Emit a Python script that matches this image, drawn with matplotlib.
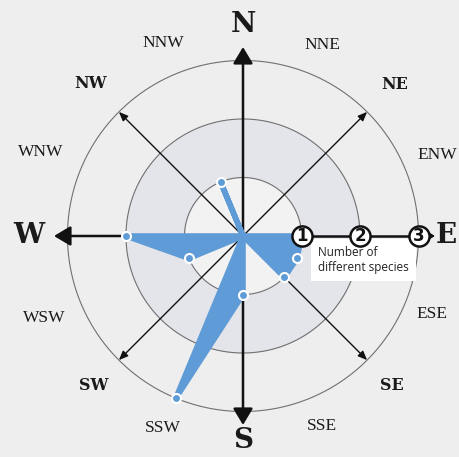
import numpy as np
import matplotlib
matplotlib.use("Agg")
import matplotlib.pyplot as plt

# ---- data ----
directions = ['N', 'NNE', 'NE', 'ENW', 'E', 'ESE', 'SE', 'SSE',
              'S', 'SSW', 'SW', 'WSW', 'W', 'WNW', 'NW', 'NNW']
species_counts = [0, 0, 0, 0, 1, 1, 1, 0, 1, 3, 0, 1, 2, 0, 0, 1]
scale_ticks = [1, 2, 3]
legend_text = 'Number of\ndifferent species'

# layout: radial distance of each direction label
label_radius = [3.62, 3.54, 3.66, 3.6, 3.48, 3.49, 3.61, 3.52,
                3.5, 3.56, 3.61, 3.67, 3.66, 3.74, 3.68, 3.57]

BLUE = '#5f9bd6'
BG = '#eeeeee'

fig = plt.figure(figsize=(4.6, 4.57), dpi=100, facecolor=BG)
ax = fig.add_axes([0.0513, 0.0035, 0.9539, 0.9602], projection='polar')
ax.set_theta_zero_location('N')
ax.set_theta_direction(-1)
ax.set_ylim(0, 3.75)
ax.axis('off')

theta = np.deg2rad(np.arange(len(directions)) * 22.5)
vals = np.array(species_counts, dtype=float)
circ = np.linspace(0, 2 * np.pi, 721)

# shaded ring between 1 and 2
ax.fill_between(circ, 0, 1, color='#f2f2f2', lw=0, zorder=1)
ax.fill_between(circ, 1, 2, color='#e3e5ea', lw=0, zorder=1)
for r in scale_ticks:
    ax.plot(circ, np.full_like(circ, r), color='#707070', lw=0.8, zorder=2)

# main axes (N, S, W) with big arrow heads
for ang in [0, np.pi, 1.5 * np.pi]:
    ax.annotate('', xy=(ang, 3.23), xytext=(ang, 0),
                arrowprops=dict(arrowstyle='-|>,head_length=0.5,head_width=0.3',
                                mutation_scale=20, lw=1.8, color='#111111',
                                shrinkA=0, shrinkB=0), zorder=3)
# E axis (scale)
ax.plot([np.pi / 2, np.pi / 2], [0, 3.1], color='#111111', lw=1.8, zorder=3)
ax.annotate('', xy=(np.pi / 2, 3.28), xytext=(np.pi / 2, 3.0),
            arrowprops=dict(arrowstyle='-|>,head_length=0.55,head_width=0.35',
                            mutation_scale=12, lw=1.2, color='#111111',
                            shrinkA=0, shrinkB=0), zorder=3)

# diagonal axes
for ang in np.deg2rad([45, 135, 225, 315]):
    ax.annotate('', xy=(ang, 3.0), xytext=(ang, 0),
                arrowprops=dict(arrowstyle='-|>,head_length=0.6,head_width=0.25',
                                mutation_scale=9, lw=1.0, color='#111111',
                                shrinkA=0, shrinkB=0), zorder=3)

# legend box
ax.annotate(legend_text, xy=(np.pi / 2, 1.0), xytext=(12, -7),
            textcoords='offset points', ha='left', va='top',
            fontsize=8.5, family=['Open Sans', 'DejaVu Sans'], linespacing=1.22,
            color='#222222',
            bbox=dict(boxstyle='square,pad=0.6', fc='white', ec='none'),
            zorder=3.5)

# data polygon
tc = np.append(theta, theta[0])
vc = np.append(vals, vals[0])
ax.fill(tc, vc, facecolor=BLUE, edgecolor=BLUE, lw=4.0, joinstyle='round', zorder=4)
m = vals > 0
ax.plot(theta[m], vals[m], 'o', ms=6.5, mfc=BLUE, mec='white', mew=1.5,
        zorder=5, clip_on=False)

# circled scale numbers
ax.plot([np.pi / 2] * len(scale_ticks), scale_ticks, 'o', ms=14.5, mfc='white',
        mec='#111111', mew=1.8, zorder=6, clip_on=False)
for r in scale_ticks:
    ax.text(np.pi / 2, r, str(r), ha='center', va='center', fontsize=12,
            fontweight='bold', family='DejaVu Sans', color='#111111', zorder=7)

# direction labels
for i, d in enumerate(directions):
    if i % 4 == 0:
        kw = dict(fontsize=20, fontweight='bold', family='DejaVu Serif')
    elif i % 4 == 2:
        kw = dict(fontsize=11.5, fontweight='bold', family='DejaVu Serif')
    else:
        kw = dict(fontsize=12.5, family='Liberation Serif')
    ax.text(theta[i], label_radius[i], d, ha='center', va='center',
            color='#1a1a1a', **kw)

fig.savefig('out.png', dpi=100, facecolor=BG)
